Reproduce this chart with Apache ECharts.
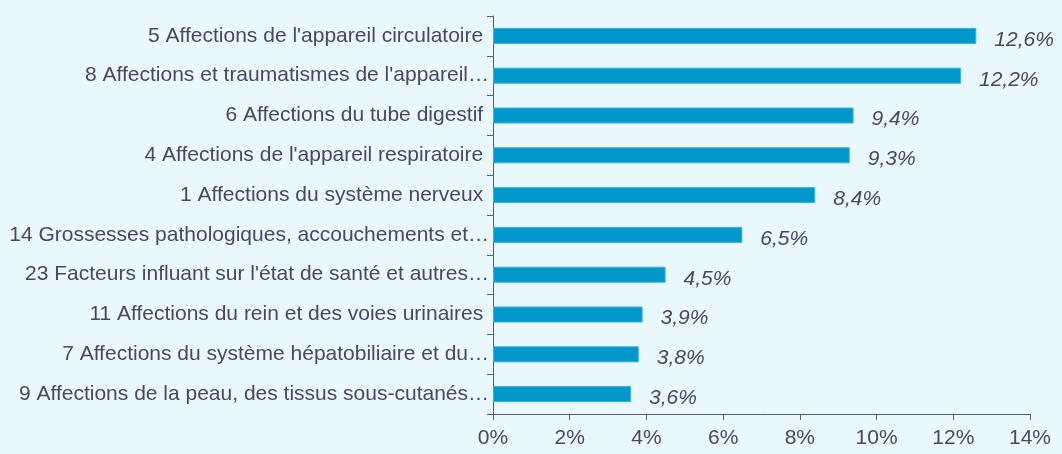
<!DOCTYPE html>
<html>
<head>
<meta charset="utf-8">
<script src="https://cdn.jsdelivr.net/npm/echarts@6/dist/echarts.min.js"></script>
<style>
  html, body { margin: 0; padding: 0; background: #e9f8fd; }
  #chart { width: 1062px; height: 454px; }
</style>
</head>
<body>
<div id="chart"></div>
<script>
  // Categories, top to bottom
  const categories = [
    "5 Affections de l'appareil circulatoire ",
    "8 Affections et traumatismes de l'appareil…",
    "6 Affections du tube digestif ",
    "4 Affections de l'appareil respiratoire ",
    "1 Affections du système nerveux ",
    "14 Grossesses pathologiques, accouchements et…",
    "23 Facteurs influant sur l'état de santé et autres…",
    "11 Affections du rein et des voies urinaires ",
    "7 Affections du système hépatobiliaire et du…",
    "9 Affections de la peau, des tissus sous-cutanés…"
  ];
  // Share in %
  const values = [12.6, 12.2, 9.4, 9.3, 8.4, 6.5, 4.5, 3.9, 3.8, 3.6];
  const xTicks = [0, 2, 4, 6, 8, 10, 12, 14];

  const textColor = '#4b4661';
  const axisColor = '#5c5a6c';
  const font = 'Liberation Sans, Arial, sans-serif';

  const chart = echarts.init(document.getElementById('chart'));

  chart.setOption({
    backgroundColor: '#e9f8fd',
    animation: false,
    grid: { left: 493, right: 32, top: 16, bottom: 40, containLabel: false },
    xAxis: {
      type: 'value',
      min: xTicks[0],
      max: xTicks[xTicks.length - 1],
      interval: 2,
      axisLine: { show: true, lineStyle: { color: axisColor } },
      axisTick: { show: true, length: 6, lineStyle: { color: axisColor } },
      splitLine: { show: false },
      axisLabel: {
        color: textColor,
        fontFamily: font,
        fontSize: 21,
        margin: 14,
        formatter: v => v + '%'
      }
    },
    yAxis: {
      type: 'category',
      data: categories,
      inverse: true,
      axisLine: { show: true, lineStyle: { color: axisColor } },
      axisTick: { show: true, length: 6, lineStyle: { color: axisColor } },
      axisLabel: {
        color: textColor,
        fontFamily: font,
        fontSize: 21,
        margin: 4,
        interval: 0
      }
    },
    series: [{
      type: 'bar',
      data: values,
      barWidth: 16,
      itemStyle: { color: '#0097cb', borderColor: '#3ab0de', borderWidth: 1 },
      label: {
        show: true,
        position: 'right',
        distance: 18,
        offset: [0, 4],
        color: textColor,
        fontStyle: 'italic',
        fontFamily: font,
        fontSize: 21,
        formatter: p => String(p.value).replace('.', ',') + '%'
      }
    }]
  });
</script>
</body>
</html>
